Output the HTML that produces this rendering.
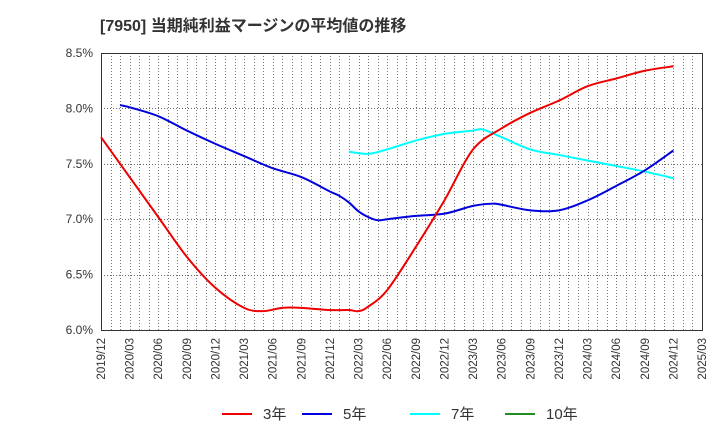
<!DOCTYPE html>
<html><head><meta charset="utf-8"><style>
body{margin:0;background:#fff;font-family:"Liberation Sans","Noto Sans CJK JP",sans-serif}
</style></head><body>
<svg width="720" height="440" xmlns="http://www.w3.org/2000/svg" font-family="Liberation Sans, Noto Sans CJK JP, sans-serif">
<text x="100" y="31" font-size="16" font-weight="bold" fill="#333">[7950]  当期純利益マージンの平均値の推移</text>
<g id="grid"></g><g id="axes"></g><g id="series"></g><g id="legend"></g>
</svg>
<script>
const xLabels=["2019/12","2020/03","2020/06","2020/09","2020/12","2021/03","2021/06","2021/09","2021/12","2022/03","2022/06","2022/09","2022/12","2023/03","2023/06","2023/09","2023/12","2024/03","2024/06","2024/09","2024/12","2025/03"];
const yTicks=[6.0,6.5,7.0,7.5,8.0,8.5];
const m3=[0,3,6,9,12,15,17,19,21,24,26,27,28,30,33,36,39,42,45,48,51,54,57,60];
const v3=[7.74,7.38,7.02,6.66,6.38,6.20,6.17,6.20,6.20,6.18,6.18,6.17,6.21,6.36,6.75,7.17,7.63,7.82,7.96,8.07,8.20,8.27,8.34,8.38];
const m5=[2,3,6,9,12,15,18,21,24,25,26,27,28,29,30,33,36,39,41,42,45,48,51,54,57,60];
const v5=[8.03,8.01,7.93,7.80,7.68,7.57,7.46,7.38,7.25,7.21,7.15,7.07,7.02,6.99,7.00,7.03,7.05,7.12,7.14,7.13,7.08,7.08,7.17,7.30,7.44,7.62];
const m7=[26,28,30,33,36,39,40,42,45,48,51,54,57,60];
const v7=[7.61,7.59,7.63,7.71,7.77,7.80,7.81,7.74,7.63,7.58,7.53,7.48,7.43,7.37];
const L=101,R=702,T=53,B=330,NM=63;
const X=m=>L+(R-L)*m/NM, Y=v=>B-(B-T)*(v-6)/2.5;
const NS="http://www.w3.org/2000/svg";
function mk(tag,attrs,parent){const e=document.createElementNS(NS,tag);for(const k in attrs)e.setAttribute(k,attrs[k]);parent.appendChild(e);return e;}
const grid=document.getElementById('grid'),axes=document.getElementById('axes'),series=document.getElementById('series'),legend=document.getElementById('legend');
for(let m=1;m<NM;m++){const l=mk('line',{x1:Math.round(X(m))+0.5,x2:Math.round(X(m))+0.5,y1:T,y2:B,stroke:'#777','stroke-dasharray':'1,2','stroke-width':1},grid);

}
yTicks.forEach(v=>{const l=mk('line',{x1:L,x2:R,y1:Math.round(Y(v))+0.5,y2:Math.round(Y(v))+0.5,stroke:'#666','stroke-dasharray':'1,2','stroke-width':1},grid);


const t=mk('text',{x:L-8,y:Y(v)+4,'text-anchor':'end','font-size':12,fill:'#333'},axes);t.textContent=v.toFixed(1)+'%';

});
const frame=mk('rect',{x:L+0.5,y:T+0.5,width:R-L,height:B-T,fill:'none',stroke:'#333','stroke-width':1},axes);


xLabels.forEach((s,i)=>{const x=X(i*3);const t=mk('text',{x:0,y:0,'text-anchor':'end','font-size':11.5,fill:'#333',transform:`translate(${x+4},${B+8}) rotate(-90)`},axes);t.textContent=s;

});
function path(ms,vs){const p=ms.map((m,i)=>[X(m),Y(vs[i])]);let d=`M${p[0][0]},${p[0][1]}`;
for(let i=0;i<p.length-1;i++){const p0=p[i-1]||p[i],p1=p[i],p2=p[i+1],p3=p[i+2]||p2;
d+=` C${p1[0]+(p2[0]-p0[0])/6},${p1[1]+(p2[1]-p0[1])/6} ${p2[0]-(p3[0]-p1[0])/6},${p2[1]-(p3[1]-p1[1])/6} ${p2[0]},${p2[1]}`;}return d;}
[[m7,v7,'#00ffff','series-7yr'],[m5,v5,'#0000dd','series-5yr'],[m3,v3,'#ee0000','series-3yr']].forEach(([m,v,c,n])=>{
const p=mk('path',{d:path(m,v),fill:'none',stroke:c,'stroke-width':2},series);

});
[['3年','#ee0000',222],['5年','#0000dd',302],['7年','#00ffff',410],['10年','#228b22',505]].forEach(([s,c,x])=>{
const g=mk('g',{},legend);


mk('line',{x1:x,x2:x+30,y1:414,y2:414,stroke:c,'stroke-width':2},g);
const t=mk('text',{x:x+41,y:419,'font-size':15,fill:'#333'},g);t.textContent=s;});
</script>
</body></html>
